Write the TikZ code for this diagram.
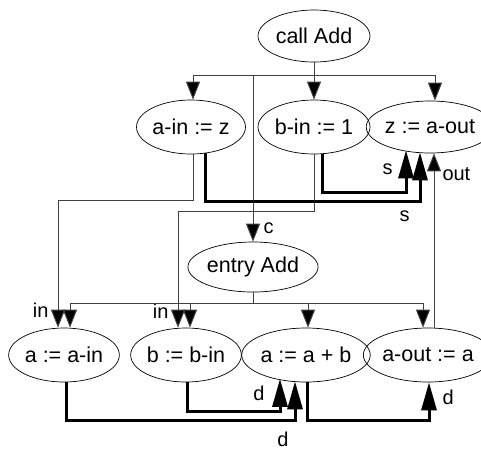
\documentclass[tikz,border=0pt]{standalone}
\usepackage{fontspec}
\setmainfont{Liberation Sans}
\usetikzlibrary{shapes.geometric,arrows.meta,calc,positioning}
\tikzset{
  stmt/.style={ellipse,draw,line width=0.7pt,inner sep=0pt,minimum width=108pt,minimum height=54pt,font=\fontsize{21.5}{25}\selectfont},
  thinedge/.style={draw=black!75,line width=1pt,-{Triangle[length=18pt,width=14pt,fill=black]}},
  thickedge/.style={draw=black,line width=3pt,-{Triangle[length=28pt,width=15pt]}},
  lbl/.style={font=\fontsize{20}{23}\selectfont,inner sep=0pt}
}
\begin{document}
\begin{tikzpicture}[x=1pt,y=-1pt]
\useasboundingbox (0,0) rectangle (481,451);
\node[stmt,minimum width=112pt,minimum height=52pt] (call) at (314,36) {call Add};
\node[stmt] (ain) at (191,127) {a-in := z};
\node[stmt,minimum width=112pt] (bin) at (314,127) {b-in := 1};
\node[stmt,minimum height=52pt] (zout) at (430,127) {z := a-out};
\node[stmt,minimum width=112pt,minimum height=50pt] (entry) at (253,267) {entry Add};
\node[stmt,minimum width=106pt] (aa) at (64,355) {a := a-in};
\node[stmt,minimum width=106pt] (bb) at (186,355) {b := b-in};
\node[stmt,minimum width=106pt] (ab) at (306,355) {a := a + b};
\node[stmt] (aout) at (428,355) {a-out := a};
% call Add edges
\draw[thinedge] (call.south) -- ++(0,13) -| ($(ain.north)+(2,0)$);
\draw[thinedge] (call.south) -- (bin.north);
\draw[thinedge] (call.south) -- ++(0,13) -| ($(zout.north)+(5,0)$);
\draw[thinedge] (call.south) -- ++(0,13) -| (entry.north)
  node[lbl,pos=0.96,right=10pt] {c};
% in edges
\draw[thinedge] ($(ain.south)+(2,0)$) -- ++(0,46) -| ($(aa.north)+(-6,0)$)
  node[lbl,pos=0.93,left=9pt] {in};
\draw[thinedge] (bin.south) -- ++(0,57) -| ($(bb.north)+(-8,0)$)
  node[lbl,pos=0.93,left=9pt] {in};
% s edges
\draw[thickedge] ($(ain.south)+(14,-1)$) -- ++(0,48) -| ($(zout.south)+(-10,-1)$)
  node[lbl,pos=0.5,below left=8pt and 9pt] {s};
\draw[thickedge] ($(bin.south)+(8,0)$) -- ++(0,38) -| ($(zout.south)+(-24,-3)$)
  node[lbl,pos=0.77,left=12pt] {s};
% out edge
\draw[thinedge] ($(aout.north)+(6,0)$) -- ($(zout.south)+(4,0)$)
  node[lbl,pos=0.88,right=8pt] {out};
% entry Add edges
\draw[thinedge] (entry.south) -- ++(0,11) -| ($(aa.north)+(6,0)$);
\draw[thinedge] (entry.south) -- ++(0,11) -| ($(bb.north)+(4,0)$);
\draw[thinedge] (entry.south) -- ++(0,11) -| ($(ab.north)+(2,0)$);
\draw[thinedge] (entry.south) -- ++(0,11) -| ($(aout.north)+(-5,0)$);
% d edges
\draw[thickedge] ($(aa.south)+(2,0)$) -- ++(0,38) -| ($(ab.south)+(-11,-1)$)
  node[lbl,pos=0.5,below left=10pt and 5pt] {d};
\draw[thickedge] ($(bb.south)+(1,0)$) -- ++(0,29) -| ($(ab.south)+(-26,-3.5)$)
  node[lbl,pos=0.77,left=14pt] {d};
\draw[thickedge] ($(ab.south)+(1,0)$) -- ++(0,38) -| ($(aout.south)+(1,0)$)
  node[lbl,pos=0.8,right=12pt] {d};
\end{tikzpicture}
\end{document}
